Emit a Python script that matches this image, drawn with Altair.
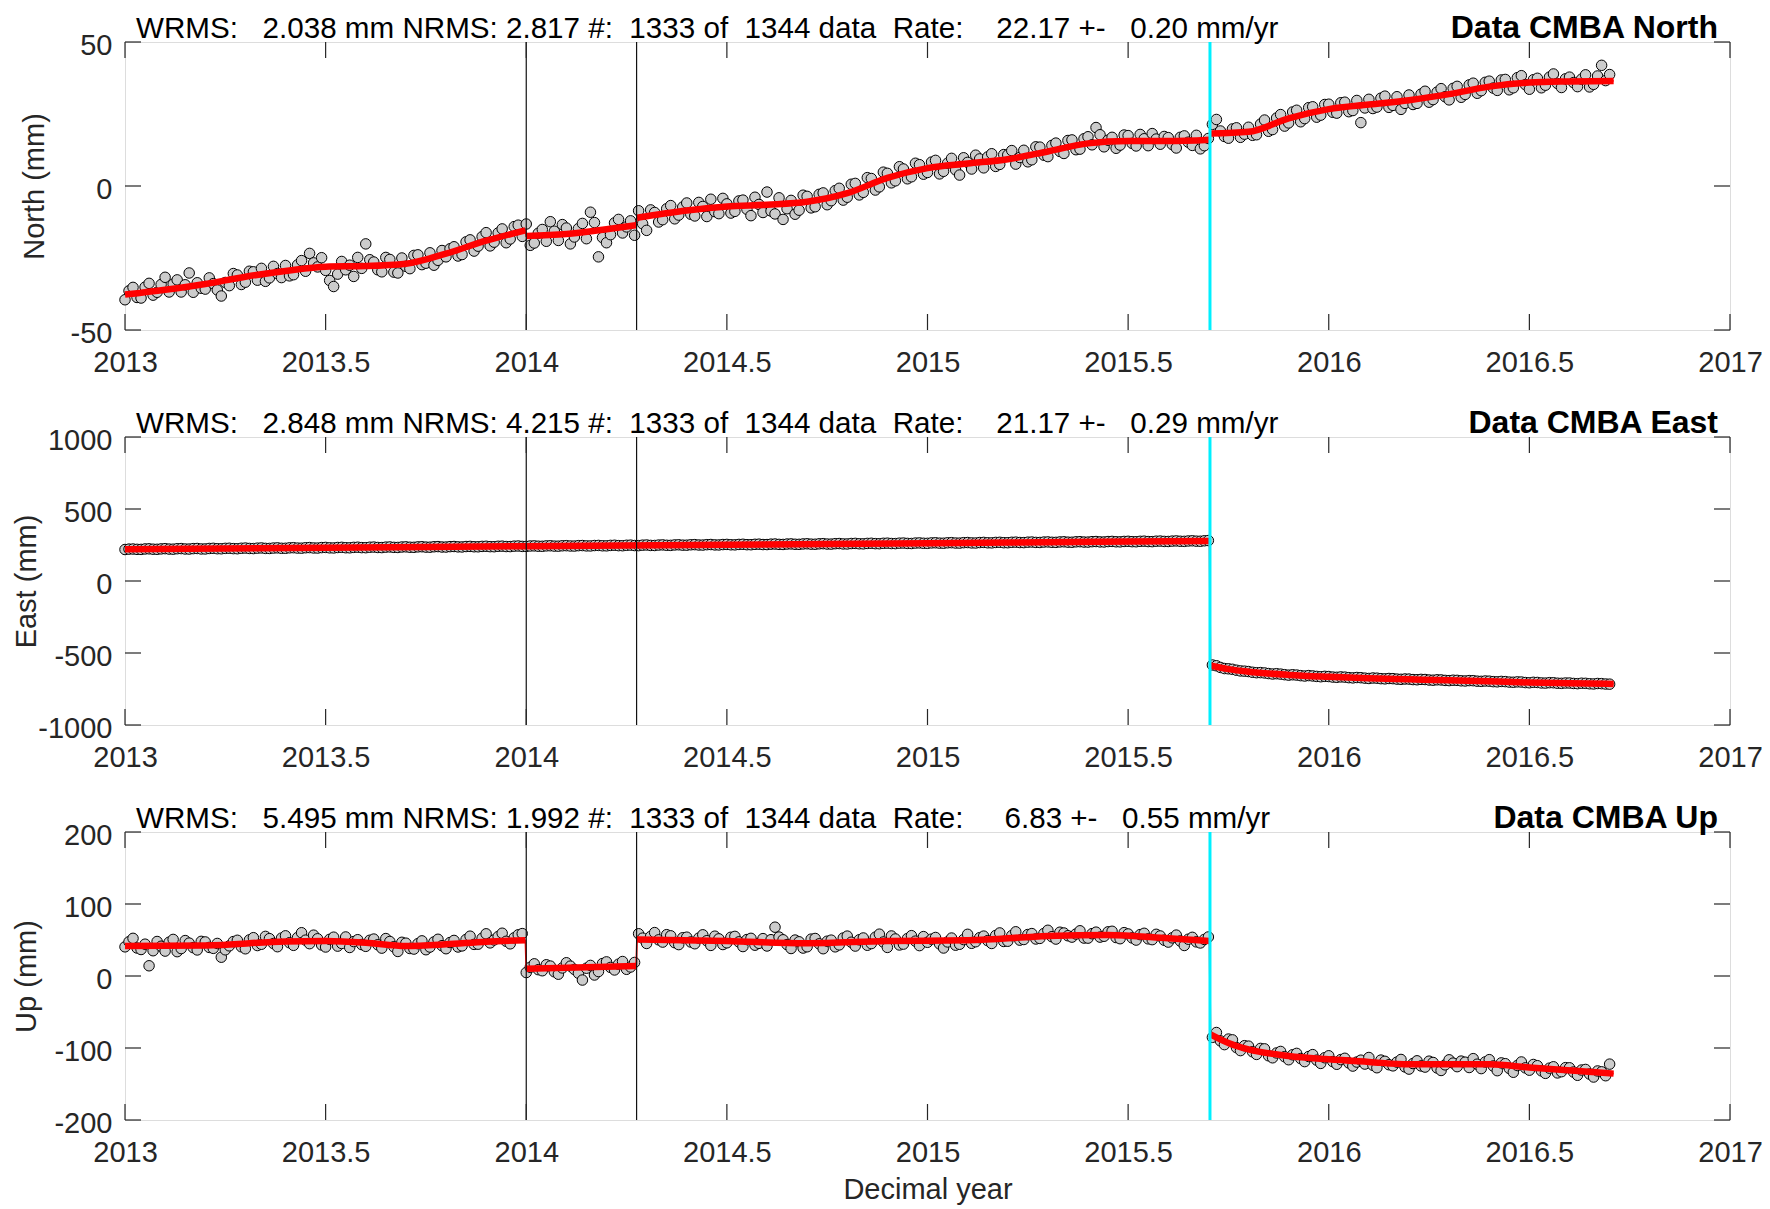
import altair as alt
import pandas as pd

FONT = "Liberation Sans"
W = 1605
H = 288
TICK = 16

# sampling grid of the plotted observations (decimal year)
EPOCH_START = 2013.0
EPOCH_STEP = 0.01
N_EPOCHS = 371
EPOCHS = [round(EPOCH_START + EPOCH_STEP * i, 2) for i in range(N_EPOCHS)]

X_TICKS = [2013, 2013.5, 2014, 2014.5, 2015, 2015.5, 2016, 2016.5, 2017]
EVENTS_BLACK = [2014.0, 2014.275]
EVENT_CYAN = [2015.704]

# ---------------- North ----------------
NORTH_OBS = [
    -39.5, -36.4, -35.2, -38.7, -38.9, -35.1, -33.8, -37.9, -36.9, -34.2, -31.7, -36.8, -34.1, -32.6, -36.8, -34.3, -30.2, -36.9, -33.6, -35.5,
    -35.8, -31.9, -33.9, -36.1, -38.2, -33.5, -34.6, -30.4, -30.9, -34.2, -33.4, -29.6, -29.8, -32.7, -28.6, -33.1, -31.9, -27.9, -30.4, -31.8,
    -27.6, -31.2, -30.8, -27.4, -25.9, -29.6, -23.4, -26.7, -28.1, -24.9, -29.3, -32.8, -34.9, -30.6, -26.2, -29.1, -27.5, -31.4, -24.8, -28.6,
    -20.1, -25.6, -26.4, -29.1, -29.8, -24.8, -25.5, -29.9, -30.2, -25.0, -27.9, -28.7, -24.1, -23.9, -27.3, -26.8, -23.2, -27.5, -25.8, -22.4,
    -24.6, -21.8, -21.1, -24.3, -23.8, -19.4, -18.7, -22.6, -20.9, -17.6, -16.2, -20.8, -19.5, -16.3, -14.9, -19.7, -18.4, -14.1, -13.6, -17.5,
    -13.2, -20.6, -19.8, -16.4, -15.1, -19.2, -12.4, -15.7, -18.9, -13.4, -14.6, -20.1, -17.7, -14.8, -13.0, -18.3, -9.1, -12.7, -24.6, -17.9,
    -19.7, -16.9, -12.8, -11.6, -16.3, -14.2, -12.1, -17.1, -8.6, -13.1, -15.4, -8.3, -9.2, -12.5, -11.7, -7.9, -6.8, -11.4, -10.1, -7.3,
    -5.9, -9.8, -10.4, -5.7, -7.1, -10.6, -4.6, -8.9, -9.6, -4.3, -6.2, -9.4, -8.8, -5.2, -4.9, -8.1, -10.3, -3.9, -6.4, -9.2,
    -2.1, -8.7, -9.7, -4.1, -11.6, -7.9, -5.0, -9.8, -8.4, -3.2, -3.6, -7.6, -7.2, -2.9, -2.4, -6.5, -5.1, -1.6, -0.8, -4.9,
    -3.9, 0.6, 0.9, -3.1, -2.2, 2.9, 2.6, -1.4, -0.3, 4.8, 4.4, 1.1, 1.8, 6.7, 5.9, 2.5, 3.2, 7.9, 7.4, 4.1,
    4.7, 8.3, 8.9, 4.2, 5.1, 7.9, 9.6, 5.6, 3.8, 9.8, 8.2, 5.9, 10.7, 9.4, 6.3, 10.1, 11.2, 6.8, 7.5, 10.9,
    10.8, 12.3, 7.6, 9.9, 12.4, 8.4, 9.1, 13.6, 13.5, 10.7, 10.2, 14.1, 14.9, 12.0, 11.3, 15.8, 16.0, 12.6, 12.8, 16.4,
    17.1, 14.3, 20.3, 17.8, 13.6, 15.9, 16.9, 13.1, 14.2, 17.7, 17.5, 14.8, 13.9, 17.9, 16.4, 14.0, 18.2, 16.3, 14.5, 17.2,
    16.8, 14.4, 13.2, 16.9, 17.4, 15.2, 14.1, 17.6, 12.9, 14.0, 16.5, 21.4, 23.1, 19.1, 17.2, 16.6, 19.8, 20.2, 16.9, 18.0,
    20.4, 17.6, 17.8, 21.5, 22.9, 19.0, 19.6, 23.6, 24.8, 20.8, 21.9, 25.7, 26.3, 22.3, 23.4, 27.2, 27.5, 23.9, 24.6, 28.3,
    28.4, 25.6, 25.3, 28.9, 29.1, 25.8, 26.2, 29.7, 22.0, 27.1, 30.1, 26.9, 27.4, 30.5, 31.2, 27.3, 28.0, 31.0, 26.6, 28.7,
    31.6, 28.3, 28.7, 31.9, 32.9, 29.1, 30.0, 32.6, 33.8, 31.0, 29.9, 33.9, 34.6, 30.8, 31.8, 35.1, 35.7, 32.2, 33.1, 36.0,
    36.4, 34.0, 33.2, 36.8, 37.0, 33.4, 34.1, 37.6, 38.3, 35.2, 33.6, 36.9, 37.4, 34.1, 35.0, 37.8, 38.9, 35.6, 34.2, 37.2,
    37.8, 35.9, 34.5, 37.1, 38.6, 34.4, 35.3, 38.2, 41.9, 36.6, 38.7,
]
NORTH_MODEL_T = [2013.0, 2013.1, 2013.2, 2013.3, 2013.4, 2013.5, 2013.6, 2013.7, 2013.8, 2013.9, 2013.998,
                 2014.0, 2014.1, 2014.2, 2014.274,
                 2014.276, 2014.4, 2014.5, 2014.6, 2014.7, 2014.8, 2014.9, 2015.0, 2015.1, 2015.2, 2015.3,
                 2015.4, 2015.5, 2015.6, 2015.703,
                 2015.705, 2015.8, 2015.9, 2016.0, 2016.1, 2016.2, 2016.3, 2016.4, 2016.5, 2016.6, 2016.71]
NORTH_MODEL_V = [-37.7, -36.0, -34.0, -31.5, -29.5, -28.0, -27.8, -27.0, -23.5, -19.0, -15.4,
                 -17.4, -16.7, -15.0, -13.6,
                 -11.0, -8.5, -7.1, -6.5, -5.5, -2.5, 2.8, 6.2, 7.8, 9.3, 12.0, 14.8, 15.6, 15.6, 16.1,
                 18.2, 18.8, 23.5, 26.7, 28.3, 29.8, 31.9, 34.5, 35.9, 36.3, 36.5]
NORTH_MODEL_SEG = [0] * 11 + [1] * 4 + [2] * 15 + [3] * 11

# ---------------- East ----------------
EAST_OBS = [
    218.7, 221.5, 222.1, 219.9, 219.5, 222.6, 223.4, 220.8, 220.2, 223.0, 224.6, 221.7, 221.0, 224.2, 225.1, 222.3, 221.8, 224.9, 225.7, 222.6,
    222.6, 225.9, 226.9, 224.2, 223.8, 226.6, 227.4, 224.9, 224.1, 227.3, 228.8, 226.0, 225.3, 228.1, 229.5, 226.4, 226.0, 228.9, 230.1, 227.1,
    227.2, 230.3, 231.3, 228.6, 228.0, 231.0, 232.2, 229.4, 228.9, 232.0, 233.1, 230.3, 229.6, 232.6, 233.8, 231.1, 230.5, 233.5, 234.6, 231.9,
    231.4, 234.5, 235.6, 232.8, 232.1, 235.2, 236.5, 233.6, 233.0, 236.1, 237.2, 234.4, 233.9, 237.0, 238.0, 235.3, 234.7, 237.8, 238.9, 236.0,
    235.8, 238.7, 239.6, 237.0, 236.4, 239.4, 240.3, 237.8, 237.5, 240.3, 241.2, 238.6, 238.1, 241.1, 242.0, 239.4, 239.0, 242.0, 243.1, 240.2,
    240.2, 243.1, 243.8, 241.5, 241.0, 243.9, 244.7, 242.2, 241.9, 244.6, 245.3, 243.1, 242.6, 245.5, 246.2, 243.8, 243.5, 246.3, 247.0, 244.6,
    244.1, 247.2, 248.3, 245.6, 245.0, 248.0, 249.1, 246.3, 245.7, 248.9, 250.0, 247.1, 246.6, 249.7, 250.8, 248.0, 247.4, 250.5, 251.5, 248.9,
    248.7, 251.6, 252.6, 249.9, 249.5, 252.3, 253.3, 250.6, 250.3, 253.1, 254.1, 251.5, 251.0, 254.0, 255.0, 252.2, 251.9, 254.8, 255.8, 253.1,
    253.0, 256.0, 256.9, 254.3, 253.8, 256.7, 257.6, 255.1, 254.6, 257.4, 258.5, 255.9, 255.3, 258.3, 259.3, 256.6, 256.2, 259.2, 260.1, 257.5,
    257.3, 260.3, 261.2, 258.6, 258.0, 261.0, 262.0, 259.5, 258.9, 261.8, 262.8, 260.3, 259.7, 262.7, 263.6, 261.1, 260.4, 263.5, 264.5, 262.0,
    261.6, 264.6, 265.5, 262.9, 262.4, 265.3, 266.3, 263.7, 263.1, 266.2, 267.1, 264.5, 264.0, 267.0, 268.0, 265.4, 264.8, 267.8, 268.7, 266.1,
    265.9, 268.8, 269.8, 267.2, 266.7, 269.6, 270.6, 268.0, 267.5, 270.5, 271.4, 268.8, 268.3, 271.3, 272.3, 269.7, 269.1, 272.1, 273.0, 270.5,
    270.2, 273.1, 274.1, 271.5, 271.0, 273.9, 274.9, 272.4, 271.8, 274.7, 275.7, 273.2, 272.6, 275.6, 276.6, 274.0, 273.4, 276.4, 277.3, 274.8,
    274.5, 277.1, 278.4, 275.9, 275.3, 278.0, 279.2, 276.6, 276.1, 279.3, 281.0, -583.4, -588.6, -600.2, -607.9, -609.8, -613.2, -619.6, -624.5, -626.1,
    -628.7, -633.9, -636.8, -636.1, -638.5, -642.7, -645.9, -643.8, -646.6, -650.5, -653.8, -651.0, -653.2, -657.2, -659.9, -656.8, -659.4, -662.6, -664.8, -662.1,
    -663.4, -667.2, -668.9, -666.0, -667.5, -671.1, -672.8, -670.2, -671.4, -674.6, -676.9, -673.5, -674.8, -678.2, -679.6, -677.0, -678.1, -681.3, -682.7, -680.4,
    -681.0, -684.6, -685.8, -683.2, -684.1, -687.5, -688.9, -686.1, -687.0, -690.3, -691.7, -689.0, -689.9, -693.1, -694.3, -691.6, -692.2, -695.7, -696.8, -694.4,
    -695.6, -698.9, -700.2, -697.4, -698.7, -702.0, -703.1, -700.5, -701.5, -705.2, -706.8, -703.6, -704.6, -707.9, -708.9, -706.0, -706.5, -709.8, -710.7, -708.3,
    -708.4, -711.5, -712.9, -709.9, -710.6, -713.6, -714.8, -711.8, -712.7, -715.4, -716.3,
]
EAST_MODEL_T = [2013.0, 2013.5, 2014.0, 2014.5, 2015.0, 2015.5, 2015.703,
                2015.705, 2015.75, 2015.8, 2015.9, 2016.0, 2016.1, 2016.2, 2016.3, 2016.4, 2016.5, 2016.6, 2016.71]
EAST_MODEL_V = [220.0, 230.8, 241.5, 252.3, 263.0, 273.8, 278.1,
                -587.0, -612.0, -630.0, -652.0, -665.0, -675.0, -682.5, -690.0, -697.0, -705.0, -710.0, -715.0]
EAST_MODEL_SEG = [0] * 7 + [1] * 12

# ---------------- Up ----------------
UP_OBS = [
    40.5, 47.6, 52.3, 38.9, 36.8, 44.2, 14.2, 35.1, 47.9, 41.3, 34.6, 46.9, 50.8, 33.8, 38.1, 49.2, 45.7, 39.4, 36.2, 48.1,
    47.3, 39.7, 38.4, 45.2, 26.1, 36.4, 41.9, 47.8, 49.6, 40.6, 37.8, 50.1, 53.2, 42.3, 44.1, 55.0, 51.9, 45.1, 40.7, 52.6,
    55.8, 46.2, 42.6, 53.4, 60.1, 49.8, 44.9, 56.7, 51.7, 43.1, 40.3, 50.9, 53.9, 41.5, 45.2, 54.2, 39.6, 47.8, 50.4, 43.6,
    41.2, 49.6, 51.3, 43.4, 38.7, 52.0, 47.9, 40.6, 34.1, 46.8, 45.6, 38.2, 37.4, 44.9, 48.8, 36.5, 40.2, 47.3, 51.0, 42.1,
    37.9, 46.5, 49.4, 40.3, 41.8, 50.7, 55.3, 43.9, 44.2, 52.4, 58.6, 46.0, 50.1, 54.8, 59.4, 48.2, 44.7, 53.1, 57.2, 58.9,
    4.8, 12.1, 16.9, 8.8, 7.3, 15.6, 13.8, 5.9, 2.5, 11.2, 18.4, 13.7, 9.1, 3.9, -5.6, 10.8, 14.7, 1.4, 6.2, 17.3,
    19.6, 11.9, 8.4, 16.4, 20.1, 9.3, 12.5, 18.8, 58.7, 52.6, 45.2, 54.9, 60.3, 50.2, 47.1, 57.4, 55.8, 46.3, 43.6, 53.1,
    53.9, 47.2, 44.8, 52.6, 57.2, 49.0, 42.5, 55.3, 51.6, 43.7, 46.1, 53.8, 55.0, 47.4, 40.9, 50.6, 52.3, 42.8, 45.4, 51.9,
    41.7, 50.4, 67.8, 54.1, 50.3, 43.6, 38.2, 49.9, 47.5, 38.8, 40.6, 51.2, 52.1, 44.7, 37.9, 48.3, 49.8, 40.5, 43.2, 52.7,
    55.4, 46.9, 41.6, 50.3, 52.8, 42.7, 45.0, 53.9, 58.1, 47.2, 39.7, 55.6, 51.4, 43.1, 44.3, 52.0, 56.0, 48.4, 42.2, 54.7,
    46.8, 51.2, 53.5, 44.6, 38.9, 47.3, 52.7, 42.8, 44.1, 50.6, 57.9, 45.4, 47.6, 53.2, 55.4, 49.1, 45.2, 56.3, 59.8, 48.0,
    48.3, 56.1, 61.4, 49.8, 50.7, 57.6, 58.9, 51.4, 52.2, 59.0, 63.5, 54.6, 51.3, 60.8, 59.7, 55.9, 54.0, 58.3, 62.8, 52.7,
    52.6, 58.8, 60.9, 54.0, 55.2, 61.3, 62.1, 53.4, 51.8, 60.2, 58.4, 52.9, 49.9, 57.5, 59.3, 51.6, 50.5, 57.9, 55.6, 49.7,
    47.1, 53.0, 56.8, 48.6, 42.4, 51.1, 53.7, 47.4, 45.9, 50.8, 54.2, -85.2, -78.5, -90.1, -95.3, -87.6, -88.7, -99.4, -103.6, -96.8,
    -97.4, -105.2, -108.9, -100.6, -101.2, -110.8, -113.6, -106.9, -104.8, -112.1, -116.3, -109.4, -107.5, -114.7, -118.9, -111.8, -109.2, -116.9, -121.4, -113.5,
    -110.8, -118.9, -122.6, -116.1, -114.3, -120.7, -125.1, -119.5, -116.9, -122.3, -113.2, -124.0, -127.4, -116.8, -118.5, -123.2, -124.8, -119.6, -115.9, -126.3,
    -129.3, -121.6, -117.8, -124.9, -126.5, -118.3, -120.1, -127.7, -131.2, -123.4, -116.4, -121.0, -125.9, -118.2, -119.7, -127.1, -114.8, -122.5, -128.6, -119.4,
    -116.2, -125.0, -131.5, -120.7, -121.8, -128.4, -133.7, -124.3, -119.4, -127.6, -130.8, -122.9, -124.6, -131.7, -135.2, -128.0, -126.1, -134.6, -132.9, -127.3,
    -127.5, -133.4, -137.9, -130.6, -129.8, -136.2, -140.3, -131.9, -133.1, -138.5, -122.4,
]
UP_MODEL_T = [2013.0, 2013.2, 2013.4, 2013.5, 2013.6, 2013.7, 2013.8, 2013.9, 2013.998,
              2014.0, 2014.274,
              2014.276, 2014.5, 2014.7, 2014.9, 2015.1, 2015.3, 2015.45, 2015.6, 2015.703,
              2015.705, 2015.75, 2015.8, 2015.9, 2016.0, 2016.1, 2016.2, 2016.4, 2016.5, 2016.71]
UP_MODEL_V = [41.7, 42.5, 48.0, 48.6, 46.3, 41.7, 44.0, 47.7, 49.5,
              10.2, 13.9,
              50.9, 48.6, 45.4, 48.6, 49.5, 55.6, 57.0, 52.3, 48.6,
              -81.0, -93.0, -102.0, -111.0, -115.7, -119.3, -122.7, -122.7, -127.0, -135.6]
UP_MODEL_SEG = [0] * 9 + [1] * 2 + [2] * 9 + [3] * 10

STATS_NORTH = "WRMS:   2.038 mm NRMS: 2.817 #:  1333 of  1344 data  Rate:    22.17 +-   0.20 mm/yr"
STATS_EAST = "WRMS:   2.848 mm NRMS: 4.215 #:  1333 of  1344 data  Rate:    21.17 +-   0.29 mm/yr"
STATS_UP = "WRMS:   5.495 mm NRMS: 1.992 #:  1333 of  1344 data  Rate:     6.83 +-   0.55 mm/yr"

NAME_NORTH = "Data CMBA North"
NAME_EAST = "Data CMBA East"
NAME_UP = "Data CMBA Up"

NORTH_Y = dict(domain=[-50, 50], ticks=[-50, 0, 50], label="North (mm)")
EAST_Y = dict(domain=[-1000, 1000], ticks=[-1000, -500, 0, 500, 1000], label="East (mm)")
UP_Y = dict(domain=[-200, 200], ticks=[-200, -100, 0, 100, 200], label="Up (mm)")

AXIS_COLOR = "#262626"


def nb(s):
    # keep runs of spaces (SVG would collapse ordinary spaces)
    return s.replace(" ", "\u00a0")


def panel(obs, mt, mv, mseg, ycfg, stats, name, title_x, show_xtitle):
    obs_df = pd.DataFrame({"t": EPOCHS, "v": obs})
    mod_df = pd.DataFrame({"t": mt, "v": mv, "seg": mseg, "k": list(range(len(mt)))})

    xscale = alt.Scale(domain=[2013, 2017], nice=False, zero=False)
    yscale = alt.Scale(domain=ycfg["domain"], nice=False, zero=False)

    xaxis_common = dict(values=X_TICKS, labelExpr="'' + datum.value", ticks=False, domain=False,
                        grid=False, labelFont=FONT, labelFontSize=29, labelColor=AXIS_COLOR,
                        labelPadding=18, labelFlush=False, labelOverlap=False)
    if show_xtitle:
        xaxis = alt.Axis(title="Decimal year", titleFont=FONT, titleFontSize=29,
                         titleFontWeight="normal", titleColor=AXIS_COLOR, titleY=78,
                         titleBaseline="alphabetic", **xaxis_common)
    else:
        xaxis = alt.Axis(title=None, **xaxis_common)

    yaxis = alt.Axis(values=ycfg["ticks"], labelExpr="'' + datum.value", ticks=False, domain=False,
                     grid=False, labelFont=FONT, labelFontSize=29, labelColor=AXIS_COLOR,
                     labelPadding=13, labelOffset=3, labelFlush=False, labelOverlap=False,
                     title=ycfg["label"], titleFont=FONT, titleFontSize=29, titleFontWeight="normal",
                     titleColor=AXIS_COLOR, titleX=title_x, titleY=H / 2, titleAngle=270,
                     titleAlign="center", titleBaseline="bottom")

    x = alt.X("t:Q", scale=xscale, axis=xaxis)
    y = alt.Y("v:Q", scale=yscale, axis=yaxis)

    pts = alt.Chart(obs_df).mark_circle(
        size=110, fill="#cccccc", stroke="#000000", strokeWidth=1, opacity=1
    ).encode(x=x, y=y)

    thick = alt.Chart(mod_df).mark_line(
        color="#ff0000", strokeWidth=6.5, interpolate="monotone"
    ).encode(x=x, y=y, detail="seg:N", order="k:Q")

    thin = alt.Chart(mod_df).mark_line(color="#ff0000", strokeWidth=1.8).encode(
        x=x, y=y, order="k:Q"
    )

    ev_black = alt.Chart(pd.DataFrame({"t": EVENTS_BLACK})).mark_rule(
        color="#111111", strokeWidth=1.2
    ).encode(x=x)
    ev_cyan = alt.Chart(pd.DataFrame({"t": EVENT_CYAN})).mark_rule(
        color="#00f0ff", strokeWidth=3
    ).encode(x=x)

    xt = pd.DataFrame({"t": X_TICKS})
    yt = pd.DataFrame({"v": ycfg["ticks"]})
    xt_bot = alt.Chart(xt).mark_rule(color=AXIS_COLOR, strokeWidth=1.2).encode(
        x=x, y=alt.value(H), y2=alt.value(H - TICK))
    xt_top = alt.Chart(xt).mark_rule(color=AXIS_COLOR, strokeWidth=1.2).encode(
        x=x, y=alt.value(0), y2=alt.value(TICK))
    yt_left = alt.Chart(yt).mark_rule(color=AXIS_COLOR, strokeWidth=1.2).encode(
        y=y, x=alt.value(0), x2=alt.value(TICK))
    yt_right = alt.Chart(yt).mark_rule(color=AXIS_COLOR, strokeWidth=1.2).encode(
        y=y, x=alt.value(W - TICK), x2=alt.value(W))

    stats_txt = alt.Chart(pd.DataFrame({"s": [nb(stats)]})).mark_text(
        align="left", baseline="alphabetic", font=FONT, fontSize=29.6, color="#000000"
    ).encode(x=alt.value(11), y=alt.value(-4), text="s:N")
    name_txt = alt.Chart(pd.DataFrame({"s": [name]})).mark_text(
        align="right", baseline="alphabetic", font=FONT, fontSize=32, fontWeight="bold",
        color="#000000"
    ).encode(x=alt.value(W - 12), y=alt.value(-4), text="s:N")

    return alt.layer(
        pts, thick, thin, ev_black, ev_cyan, xt_bot, xt_top, yt_left, yt_right,
        stats_txt, name_txt
    ).properties(width=W, height=H)


p_north = panel(NORTH_OBS, NORTH_MODEL_T, NORTH_MODEL_V, NORTH_MODEL_SEG, NORTH_Y,
                STATS_NORTH, NAME_NORTH, -76, False)
p_east = panel(EAST_OBS, EAST_MODEL_T, EAST_MODEL_V, EAST_MODEL_SEG, EAST_Y,
               STATS_EAST, NAME_EAST, -84, False)
p_up = panel(UP_OBS, UP_MODEL_T, UP_MODEL_V, UP_MODEL_SEG, UP_Y,
             STATS_UP, NAME_UP, -84, True)

chart = alt.vconcat(p_north, p_east, p_up, spacing=107, bounds="flush").configure_view(
    stroke=AXIS_COLOR, strokeWidth=1.2
).configure(font=FONT).properties(
    padding={"top": 3, "left": 3, "right": -1, "bottom": 0}, background="white"
)

chart.save("out.html", embed_options={"renderer": "svg", "actions": False})
